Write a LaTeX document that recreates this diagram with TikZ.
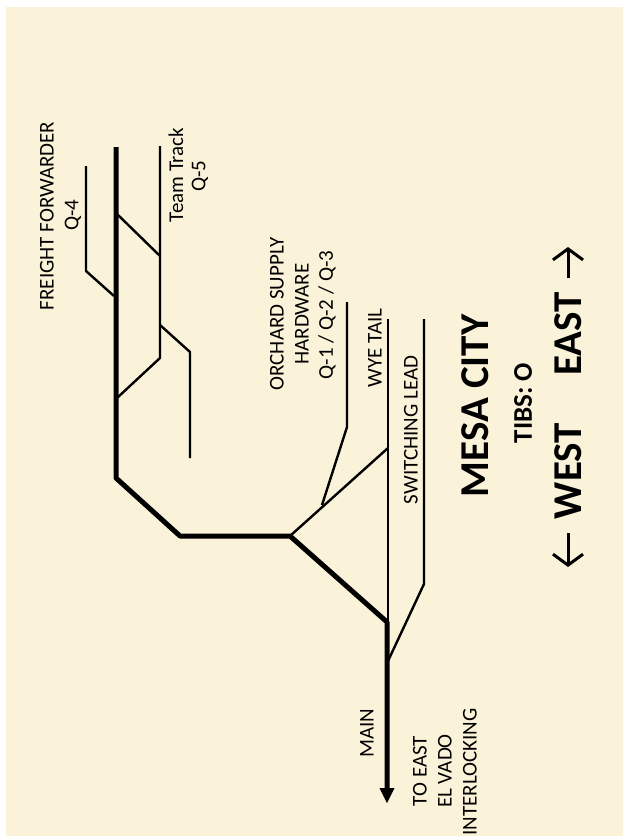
\documentclass[tikz,border=0pt]{standalone}
\usepackage{xcolor}
\usepackage{fontspec}
\setmainfont{Carlito}
\usetikzlibrary{arrows.meta,positioning}
\definecolor{paper}{HTML}{FBF3D9}
\tikzset{
    mainline/.style = {draw, line width = 5pt, line join = round},
    sideline/.style = {draw, line width = 2.4pt, line join = round},
    smalllabel/.style = {rotate = 90, inner sep = 0pt, font = \fontsize{21}{21}\selectfont, text = black},
    townlabel/.style = {rotate = 90, inner sep = 0pt, font = \fontsize{41}{41}\selectfont\bfseries},
    compasslabel/.style = {rotate = 90, inner sep = 0pt, font = \fontsize{41}{41}\selectfont\bfseries},
    compassarrow/.style = {draw, line width = 3pt, -{Straight Barb[length = 11pt, width = 30pt]}}
}

\begin{document}
\begin{tikzpicture}[x = 1pt, y = -1pt]
        \path [use as bounding box] (0,0) rectangle (623,836);
        \path [fill = paper] (6,7) rectangle (623,836);
        % main track
        \coordinate (mainTop) at (116,147);
        \coordinate (mainBendA) at (116,478);
        \coordinate (mainBendB) at (180,536);
        \coordinate (wyeLeft) at (290,536);
        \coordinate (wyeBottom) at (387,622);
        \coordinate (mainEnd) at (387,803);
        \path [mainline] (mainTop) -- (mainBendA) -- (mainBendB) -- (wyeLeft) -- (wyeBottom) -- (387,790);
        \path [fill] (mainEnd) -- (379.5,788) -- (394.5,788) -- cycle;
        % freight forwarder spur
        \coordinate (freightEnd) at (86,166);
        \coordinate (freightBend) at (86,271);
        \coordinate (freightFrog) at (114,296);
        \path [sideline] (freightEnd) -- (freightBend) -- (freightFrog);
        % team track
        \coordinate (teamTop) at (160,146);
        \coordinate (teamFrogA) at (160,256);
        \coordinate (teamFrogB) at (160,358);
        \coordinate (mainFrogA) at (117,214);
        \coordinate (mainFrogB) at (117,398);
        \path [sideline] (teamTop) -- (teamFrogB) -- (mainFrogB);
        \path [sideline] (mainFrogA) -- (teamFrogA);
        \coordinate (teamSpurFrog) at (160,325);
        \coordinate (teamSpurBend) at (190,352);
        \coordinate (teamSpurEnd) at (190,458);
        \path [sideline] (teamSpurFrog) -- (teamSpurBend) -- (teamSpurEnd);
        % wye and leads
        \coordinate (wyeTop) at (388,319);
        \coordinate (wyeFrog) at (388,448);
        \coordinate (orchardTop) at (347,302);
        \coordinate (orchardBend) at (347,427);
        \coordinate (orchardFrog) at (322,505);
        \coordinate (leadTop) at (424,319);
        \coordinate (leadBend) at (424,584);
        \coordinate (leadFrog) at (388,661);
        \path [sideline] (wyeTop) -- (388,622);
        \path [sideline] (wyeFrog) -- (wyeLeft);
        \path [sideline] (orchardTop) -- (orchardBend) -- (orchardFrog);
        \path [sideline] (leadTop) -- (leadBend) -- (leadFrog);
        % labels
        \node (freight) at (47,216) [smalllabel] {FREIGHT FORWARDER};
        \node (qfour) at (73,215) [smalllabel] {Q-4};
        \node (team) at (176,175) [smalllabel] {Team Track};
        \node (qfive) at (200,176) [smalllabel] {Q-5};
        \node (orchard) at (277,314) [smalllabel] {ORCHARD SUPPLY};
        \node (hardware) at (302,314) [smalllabel] {HARDWARE};
        \node (qones) at (327,315) [smalllabel] {Q-1 / Q-2 / Q-3};
        \node (wyetail) at (375,348) [smalllabel] {WYE TAIL};
        \node (switching) at (411,430) [smalllabel] {SWITCHING LEAD};
        \node (main) at (367,733) [smalllabel] {MAIN};
        \node (toeast) at (420,771) [smalllabel] {TO EAST};
        \node (elvado) at (445,771) [smalllabel] {EL VADO};
        \node (interlocking) at (470,772) [smalllabel] {INTERLOCKING};
        \node (mesa) at (475,406) [townlabel] {MESA CITY};
        \node (tibs) at (523,403) [rotate = 90, inner sep = 0pt, font = \fontsize{27}{27}\selectfont\bfseries] {TIBS: O};
        \node (west) at (568,471) [compasslabel] {WEST};
        \node (east) at (568,334) [compasslabel] {EAST};
        \coordinate (westTip) at (568,567);
        \coordinate (eastTip) at (568,247);
        \path [compassarrow] (568,533) -- (westTip);
        \path [compassarrow] (568,278) -- (eastTip);
    \end{tikzpicture}
\end{document}
